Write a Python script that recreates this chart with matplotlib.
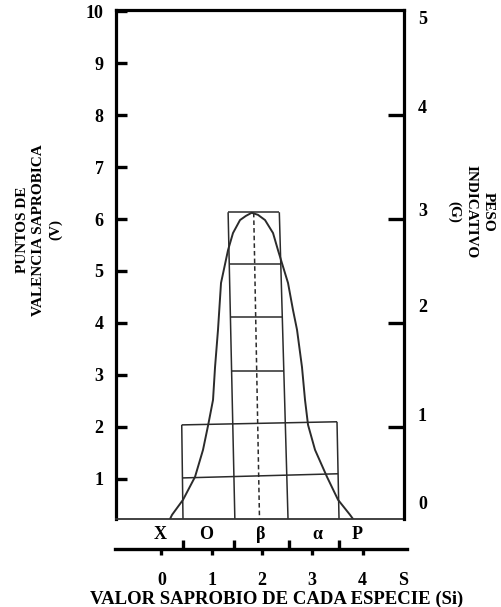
import matplotlib

matplotlib.use("Agg")
import matplotlib.pyplot as plt

plt.rcParams["font.family"] = ["Liberation Serif", "DejaVu Serif"]
plt.rcParams["font.weight"] = "bold"

# left axis: saprobic valence points (V)
v_ticks = [1, 2, 3, 4, 5, 6, 7, 8, 9, 10]
v_limits = (0.23, 10.02)

# right axis: indicator weight (G), label positions as lettered on the scale
g_ticks = [1, 2, 3, 4]
g_label_pos = [0.27, 1.12, 2.17, 3.09, 4.08, 4.94]
g_labels = ["0", "1", "2", "3", "4", "5"]

# saprobic value scale (Si) and saprobic zones
si_ticks = [0, 1, 2, 3, 4]
si_end_label = ("S", 4.80)
zone_labels = ["X", "O", "β", "α", "P"]
zone_centers = [-0.03, 0.89, 1.98, 3.11, 3.89]
zone_bounds = [0.43, 1.44, 2.54, 3.53]

# wide valence block (o, beta, alpha zones): edges at top / bottom, level lines left / right
wide_left = (0.404, 0.429)
wide_right = (3.491, 3.531)
wide_levels_left = [2.04, 1.02]
wide_levels_right = [2.10, 1.10]

# tall beta column: edges at top / bottom, level lines
col_left = (1.326, 1.46)
col_right = (2.344, 2.517)
col_levels = [6.13, 5.13, 4.12, 3.08]

# mean saprobic value line (top, bottom)
mean_si = (1.835, 1.95)
mean_v = (6.12, 0.23)

# valence distribution curve
curve_si = [0.171, 0.211, 0.43, 0.668, 0.827, 0.93, 1.026, 1.066, 1.125, 1.185,
            1.324, 1.423, 1.563, 1.68, 1.795, 1.92, 2.06, 2.219, 2.318, 2.517,
            2.616, 2.696, 2.795, 2.855, 2.915, 3.054, 3.292, 3.511, 3.75, 3.81]
curve_v = [0.23, 0.31, 0.60, 1.04, 1.56, 2.04, 2.52, 3.15, 3.87, 4.77,
           5.40, 5.73, 5.98, 6.06, 6.12, 6.08, 5.98, 5.73, 5.40, 4.77,
           4.25, 3.87, 3.15, 2.52, 2.04, 1.56, 1.04, 0.60, 0.31, 0.23]

INK = "#2b2b2b"
W, H = 501, 607


def _edge_x(edge, v, top_v):
    """x of a slanted edge running from top_v down to the bottom limit."""
    t = (top_v - v) / (top_v - v_limits[0])
    return edge[0] + (edge[1] - edge[0]) * t


fig = plt.figure(figsize=(W / 100, H / 100), dpi=100)
ax = fig.add_axes([116 / W, 1 - 519 / H, 288 / W, 509 / H])
ax.set_xlim(-0.903, 4.823)
ax.set_ylim(*v_limits)

line_kw = dict(color=INK, linewidth=1.1, solid_capstyle="butt")
bottom = v_limits[0]

# wide block
ax.plot(wide_left, [wide_levels_left[0], bottom], **line_kw)
ax.plot(wide_right, [wide_levels_right[0], bottom], **line_kw)
for vl, vr in zip(wide_levels_left, wide_levels_right):
    ax.plot([_edge_x(wide_left, vl, wide_levels_left[0]),
             _edge_x(wide_right, vr, wide_levels_right[0])], [vl, vr], **line_kw)

# beta column
ax.plot(col_left, [col_levels[0], bottom], **line_kw)
ax.plot(col_right, [col_levels[0], bottom], **line_kw)
for lv in col_levels:
    ax.plot([_edge_x(col_left, lv, col_levels[0]),
             _edge_x(col_right, lv, col_levels[0])], [lv, lv], **line_kw)

# mean line and curve
ax.plot(mean_si, mean_v, color=INK, linewidth=1.1, linestyle=(0, (3, 2)))
ax.plot(curve_si, curve_v, color=INK, linewidth=1.4)

# spines
for side in ("left", "top"):
    ax.spines[side].set_linewidth(2.3)
    ax.spines[side].set_color("black")
ax.spines["bottom"].set_linewidth(1.3)
ax.spines["bottom"].set_color("#333333")
ax.spines["right"].set_visible(False)

tick_font = dict(fontsize=13, fontweight="bold")
ax.set_yticks(v_ticks, [str(v) for v in v_ticks], **tick_font)
ax.tick_params(axis="y", direction="in", length=8, width=2.4, pad=9, colors="black")

ax.set_xticks(zone_centers, zone_labels, **tick_font)
ax.tick_params(axis="x", length=0, pad=5)

# right axis: indicator weight
ax2 = ax.twinx()
ax2.set_ylim(v_limits[0] / 2, v_limits[1] / 2)
for side in ("left", "top", "bottom"):
    ax2.spines[side].set_visible(False)
ax2.spines["right"].set_linewidth(2.3)
ax2.set_yticks(g_label_pos, g_labels, **tick_font)
ax2.set_yticks(g_ticks, minor=True)
ax2.tick_params(axis="y", which="major", length=0, pad=10)
ax2.tick_params(axis="y", which="minor", direction="in", length=11.5, width=2.4)

# saprobic value scale below the chart
ax_si = fig.add_axes([115 / W, 1 - 549 / H, 292 / W, 0.0001])
ax_si.set_xlim(-0.922, 4.883)
ax_si.set_yticks([])
for side in ("left", "top", "right"):
    ax_si.spines[side].set_visible(False)
ax_si.spines["bottom"].set_linewidth(2.4)
ax_si.set_xticks(si_ticks + [si_end_label[1]],
                 [str(s) for s in si_ticks] + [si_end_label[0]], **tick_font)
ax_si.xaxis.get_major_ticks()[-1].tick1line.set_visible(False)
ax_si.set_xticks(zone_bounds, minor=True)
ax_si.tick_params(axis="x", which="major", direction="out", length=4.5, width=2.4, pad=12)
ax_si.tick_params(axis="x", which="minor", direction="in", length=6.5, width=2.4)

# axis titles
fig.text(39 / W, 1 - 230 / H, "PUNTOS DE\nVALENCIA SAPROBICA\n(V)", rotation=90,
         ha="center", va="center", multialignment="center", fontsize=11,
         fontweight="bold", linespacing=1.35)
fig.text(471 / W, 1 - 212 / H, "PESO\nINDICATIVO\n(G)", rotation=-90,
         ha="center", va="center", multialignment="center", fontsize=11,
         fontweight="bold", linespacing=1.35)
fig.text(277 / W, 1 - 599 / H, "VALOR SAPROBIO DE CADA ESPECIE (Si)",
         ha="center", va="center", fontsize=13.5, fontweight="bold")

fig.savefig("out.png", dpi=100, facecolor="white")
